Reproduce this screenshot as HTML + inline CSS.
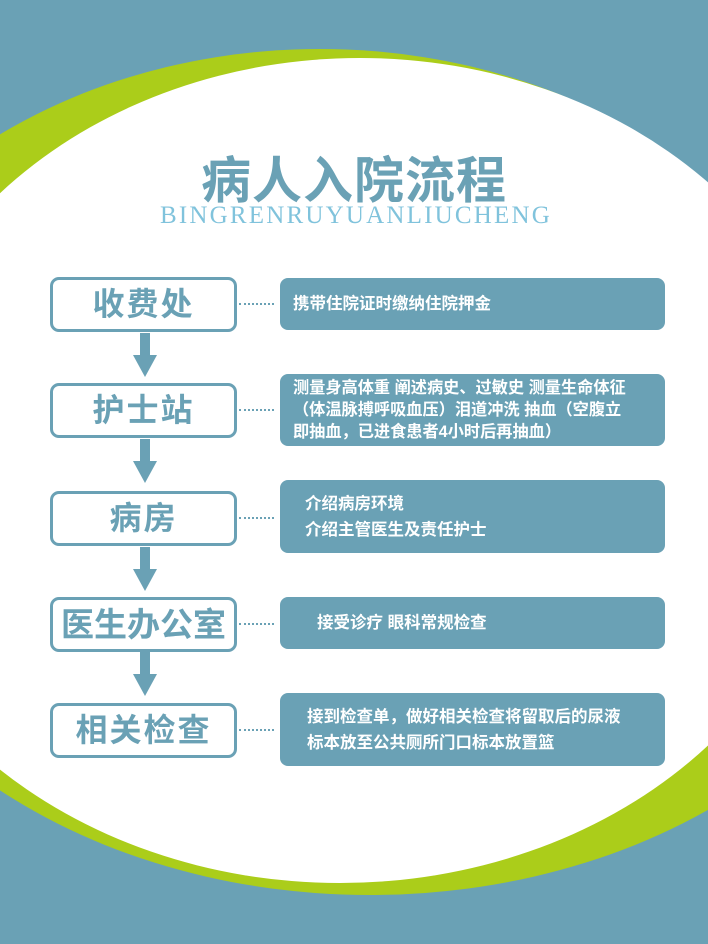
<!DOCTYPE html>
<html><head><meta charset="utf-8"><style>
body{margin:0;width:708px;height:944px;overflow:hidden;position:relative;background:#6aa1b5;font-family:"Liberation Sans","Noto Sans CJK SC",sans-serif}
svg{position:absolute;left:0;top:0}
.lb{position:absolute;left:50px;width:181px;border:3px solid #6aa1b5;border-radius:9px;background:#fff;color:#6aa1b5;font-weight:bold;font-size:32px;text-align:center;box-sizing:content-box;letter-spacing:2px}
.rb{position:absolute;left:280px;width:385px;background:#6aa1b5;border-radius:8px;color:#fff;font-weight:bold;font-size:16.5px;line-height:23px;box-sizing:border-box;display:flex;flex-direction:column;justify-content:center;white-space:nowrap}
.dot{position:absolute;left:239px;width:35px;border-top:2px dotted #6aa1b5}
.sh{position:absolute;left:140px;width:10px;background:#6aa1b5}
.hd{position:absolute;left:133px;width:0;height:0;border-left:12px solid transparent;border-right:12px solid transparent;border-top:22px solid #6aa1b5}
</style></head><body>
<svg width="708" height="944">
<defs>
<clipPath id="t"><rect x="0" y="0" width="708" height="470"/></clipPath>
<clipPath id="b"><rect x="0" y="470" width="708" height="474"/></clipPath>
</defs>
<g clip-path="url(#t)">
<ellipse cx="320" cy="470" rx="530" ry="421" fill="#abcd1a"/>
<ellipse cx="360" cy="470" rx="486" ry="412" fill="#fff"/>
</g>
<g clip-path="url(#b)">
<ellipse cx="370" cy="470" rx="563" ry="425" fill="#abcd1a"/>
<ellipse cx="340" cy="470" rx="494" ry="413" fill="#fff"/>
</g>
</svg>
<div style="position:absolute;left:0;width:708px;top:150px;text-align:center;color:#6aa1b5;font-weight:bold;font-size:50px;line-height:62px;letter-spacing:1px">病人入院流程</div>
<div style="position:absolute;left:2px;width:708px;top:202px;text-align:center;color:#80c3dc;font-family:'Liberation Serif',serif;font-size:25px;line-height:28px;letter-spacing:2.2px">BINGRENRUYUANLIUCHENG</div>

<div class="lb" style="top:277px;height:49px;line-height:49px">收费处</div>
<div class="dot" style="top:303px"></div>
<div class="rb" style="top:278px;height:52px;padding-left:13px">携带住院证时缴纳住院押金</div>
<div class="sh" style="top:333px;height:23px"></div><div class="hd" style="top:355px"></div>

<div class="lb" style="top:383px;height:49px;line-height:49px">护士站</div>
<div class="dot" style="top:409px"></div>
<div class="rb" style="top:374px;height:72px;padding-left:13px;line-height:22px;font-size:16.2px">测量身高体重 阐述病史、过敏史 测量生命体征<br>（体温脉搏呼吸血压）泪道冲洗 抽血（空腹立<br>即抽血，已进食患者4小时后再抽血）</div>
<div class="sh" style="top:439px;height:23px"></div><div class="hd" style="top:461px"></div>

<div class="lb" style="top:491px;height:49px;line-height:49px">病房</div>
<div class="dot" style="top:517px"></div>
<div class="rb" style="top:480px;height:73px;padding-left:25px;line-height:26px">介绍病房环境<br>介绍主管医生及责任护士</div>
<div class="sh" style="top:547px;height:23px"></div><div class="hd" style="top:569px"></div>

<div class="lb" style="top:597px;height:49px;line-height:49px;letter-spacing:0;font-size:33px">医生办公室</div>
<div class="dot" style="top:623px"></div>
<div class="rb" style="top:597px;height:52px;padding-left:37px">接受诊疗 眼科常规检查</div>
<div class="sh" style="top:652px;height:23px"></div><div class="hd" style="top:674px"></div>

<div class="lb" style="top:703px;height:49px;line-height:49px">相关检查</div>
<div class="dot" style="top:729px"></div>
<div class="rb" style="top:693px;height:73px;padding-left:27px;line-height:26px">接到检查单，做好相关检查将留取后的尿液<br>标本放至公共厕所门口标本放置篮</div>
</body></html>
